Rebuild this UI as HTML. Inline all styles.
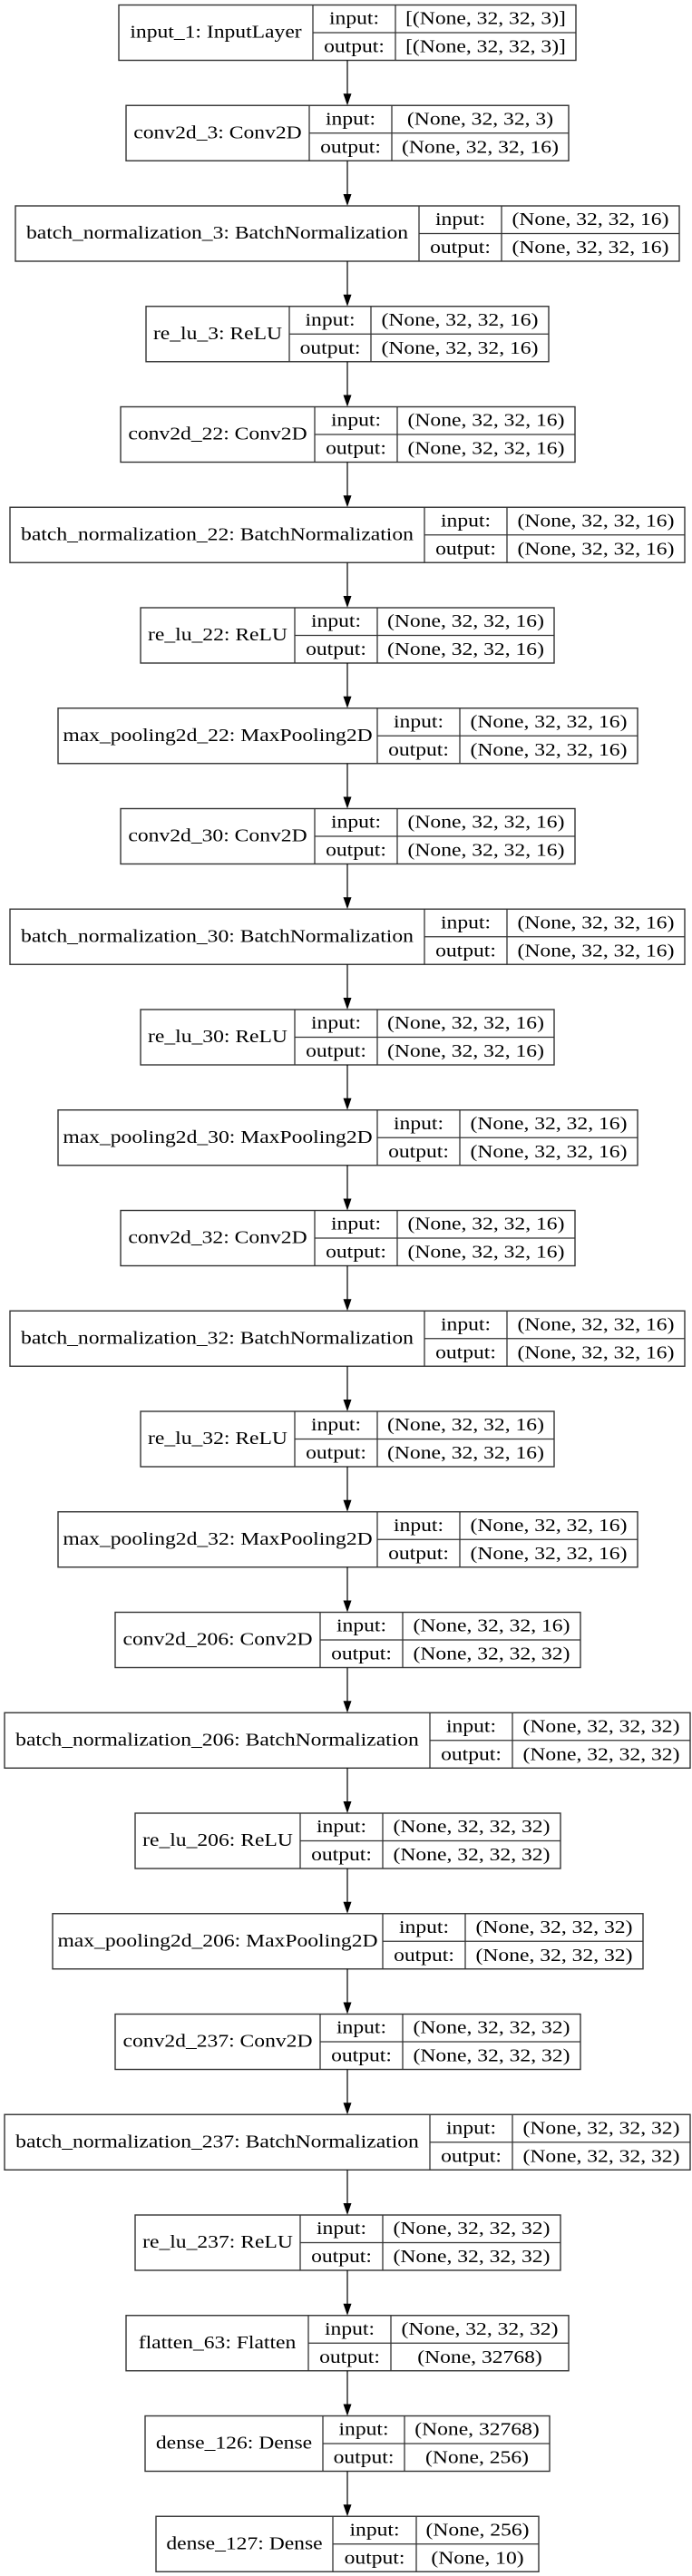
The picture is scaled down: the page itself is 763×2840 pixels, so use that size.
<!DOCTYPE html>
<html><head><meta charset="utf-8"><style>
html,body{margin:0;padding:0;background:#fff;width:763px;height:2840px;overflow:hidden}
svg text{font-family:"Liberation Serif",serif;font-size:20px;fill:#000}
.b{fill:none;stroke:#333;stroke-width:1.4}
.l{stroke:#333;stroke-width:1.3}
.a{stroke:#000;stroke-width:1.2}
</style></head><body>
<svg width="763" height="2840" viewBox="0 0 763 2840" xmlns="http://www.w3.org/2000/svg">
<defs>
<g id="ar"><line class="a" x1="383" y1="-49.75" x2="383" y2="-12"/><polygon points="378.5,-13 387.5,-13 383,0" fill="#000"/></g>
</defs>

<!-- 0 -->
<g transform="translate(0,5.5)">
<rect class="b" x="131" y="0" width="504" height="61"/><line class="l" x1="345" y1="0" x2="345" y2="61"/><line class="l" x1="436" y1="0" x2="436" y2="61"/><line class="l" x1="345" y1="30.5" x2="635" y2="30.5"/>
<g transform="translate(238,36) scale(1.18,1)"><text text-anchor="middle">input_1: InputLayer</text></g>
<g transform="translate(390.5,21) scale(1.18,1)"><text text-anchor="middle">input:</text></g>
<g transform="translate(390.5,52) scale(1.18,1)"><text text-anchor="middle">output:</text></g>
<g transform="translate(535.5,21) scale(1.18,1)"><text text-anchor="middle">[(None, 32, 32, 3)]</text></g>
<g transform="translate(535.5,52) scale(1.18,1)"><text text-anchor="middle">[(None, 32, 32, 3)]</text></g>
</g>

<!-- 1 -->
<g transform="translate(0,116.25)"><use href="#ar"/>
<rect class="b" x="139" y="0" width="488" height="61"/><line class="l" x1="341" y1="0" x2="341" y2="61"/><line class="l" x1="432" y1="0" x2="432" y2="61"/><line class="l" x1="341" y1="30.5" x2="627" y2="30.5"/>
<g transform="translate(240,36) scale(1.18,1)"><text text-anchor="middle">conv2d_3: Conv2D</text></g>
<g transform="translate(386.5,21) scale(1.18,1)"><text text-anchor="middle">input:</text></g>
<g transform="translate(386.5,52) scale(1.18,1)"><text text-anchor="middle">output:</text></g>
<g transform="translate(529.5,21) scale(1.18,1)"><text text-anchor="middle">(None, 32, 32, 3)</text></g>
<g transform="translate(529.5,52) scale(1.18,1)"><text text-anchor="middle">(None, 32, 32, 16)</text></g>
</g>

<!-- 2 -->
<g transform="translate(0,227)"><use href="#ar"/>
<rect class="b" x="17" y="0" width="732" height="61"/><line class="l" x1="462" y1="0" x2="462" y2="61"/><line class="l" x1="553" y1="0" x2="553" y2="61"/><line class="l" x1="462" y1="30.5" x2="749" y2="30.5"/>
<g transform="translate(239.5,36) scale(1.18,1)"><text text-anchor="middle">batch_normalization_3: BatchNormalization</text></g>
<g transform="translate(507.5,21) scale(1.18,1)"><text text-anchor="middle">input:</text></g>
<g transform="translate(507.5,52) scale(1.18,1)"><text text-anchor="middle">output:</text></g>
<g transform="translate(651,21) scale(1.18,1)"><text text-anchor="middle">(None, 32, 32, 16)</text></g>
<g transform="translate(651,52) scale(1.18,1)"><text text-anchor="middle">(None, 32, 32, 16)</text></g>
</g>

<!-- 3 -->
<g transform="translate(0,337.75)"><use href="#ar"/>
<rect class="b" x="161" y="0" width="444" height="61"/><line class="l" x1="319" y1="0" x2="319" y2="61"/><line class="l" x1="409" y1="0" x2="409" y2="61"/><line class="l" x1="319" y1="30.5" x2="605" y2="30.5"/>
<g transform="translate(240,36) scale(1.18,1)"><text text-anchor="middle">re_lu_3: ReLU</text></g>
<g transform="translate(364,21) scale(1.18,1)"><text text-anchor="middle">input:</text></g>
<g transform="translate(364,52) scale(1.18,1)"><text text-anchor="middle">output:</text></g>
<g transform="translate(507,21) scale(1.18,1)"><text text-anchor="middle">(None, 32, 32, 16)</text></g>
<g transform="translate(507,52) scale(1.18,1)"><text text-anchor="middle">(None, 32, 32, 16)</text></g>
</g>

<!-- 4 -->
<g transform="translate(0,448.5)"><use href="#ar"/>
<rect class="b" x="133" y="0" width="501" height="61"/><line class="l" x1="347" y1="0" x2="347" y2="61"/><line class="l" x1="438" y1="0" x2="438" y2="61"/><line class="l" x1="347" y1="30.5" x2="634" y2="30.5"/>
<g transform="translate(240,36) scale(1.18,1)"><text text-anchor="middle">conv2d_22: Conv2D</text></g>
<g transform="translate(392.5,21) scale(1.18,1)"><text text-anchor="middle">input:</text></g>
<g transform="translate(392.5,52) scale(1.18,1)"><text text-anchor="middle">output:</text></g>
<g transform="translate(536,21) scale(1.18,1)"><text text-anchor="middle">(None, 32, 32, 16)</text></g>
<g transform="translate(536,52) scale(1.18,1)"><text text-anchor="middle">(None, 32, 32, 16)</text></g>
</g>

<!-- 5 -->
<g transform="translate(0,559.25)"><use href="#ar"/>
<rect class="b" x="11" y="0" width="744" height="61"/><line class="l" x1="468" y1="0" x2="468" y2="61"/><line class="l" x1="559" y1="0" x2="559" y2="61"/><line class="l" x1="468" y1="30.5" x2="755" y2="30.5"/>
<g transform="translate(239.5,36) scale(1.18,1)"><text text-anchor="middle">batch_normalization_22: BatchNormalization</text></g>
<g transform="translate(513.5,21) scale(1.18,1)"><text text-anchor="middle">input:</text></g>
<g transform="translate(513.5,52) scale(1.18,1)"><text text-anchor="middle">output:</text></g>
<g transform="translate(657,21) scale(1.18,1)"><text text-anchor="middle">(None, 32, 32, 16)</text></g>
<g transform="translate(657,52) scale(1.18,1)"><text text-anchor="middle">(None, 32, 32, 16)</text></g>
</g>

<!-- 6 -->
<g transform="translate(0,670)"><use href="#ar"/>
<rect class="b" x="155" y="0" width="456" height="61"/><line class="l" x1="325" y1="0" x2="325" y2="61"/><line class="l" x1="416" y1="0" x2="416" y2="61"/><line class="l" x1="325" y1="30.5" x2="611" y2="30.5"/>
<g transform="translate(240,36) scale(1.18,1)"><text text-anchor="middle">re_lu_22: ReLU</text></g>
<g transform="translate(370.5,21) scale(1.18,1)"><text text-anchor="middle">input:</text></g>
<g transform="translate(370.5,52) scale(1.18,1)"><text text-anchor="middle">output:</text></g>
<g transform="translate(513.5,21) scale(1.18,1)"><text text-anchor="middle">(None, 32, 32, 16)</text></g>
<g transform="translate(513.5,52) scale(1.18,1)"><text text-anchor="middle">(None, 32, 32, 16)</text></g>
</g>

<!-- 7 -->
<g transform="translate(0,780.75)"><use href="#ar"/>
<rect class="b" x="64" y="0" width="639" height="61"/><line class="l" x1="416" y1="0" x2="416" y2="61"/><line class="l" x1="507" y1="0" x2="507" y2="61"/><line class="l" x1="416" y1="30.5" x2="703" y2="30.5"/>
<g transform="translate(240,36) scale(1.18,1)"><text text-anchor="middle">max_pooling2d_22: MaxPooling2D</text></g>
<g transform="translate(461.5,21) scale(1.18,1)"><text text-anchor="middle">input:</text></g>
<g transform="translate(461.5,52) scale(1.18,1)"><text text-anchor="middle">output:</text></g>
<g transform="translate(605,21) scale(1.18,1)"><text text-anchor="middle">(None, 32, 32, 16)</text></g>
<g transform="translate(605,52) scale(1.18,1)"><text text-anchor="middle">(None, 32, 32, 16)</text></g>
</g>

<!-- 8 -->
<g transform="translate(0,891.5)"><use href="#ar"/>
<rect class="b" x="133" y="0" width="501" height="61"/><line class="l" x1="347" y1="0" x2="347" y2="61"/><line class="l" x1="438" y1="0" x2="438" y2="61"/><line class="l" x1="347" y1="30.5" x2="634" y2="30.5"/>
<g transform="translate(240,36) scale(1.18,1)"><text text-anchor="middle">conv2d_30: Conv2D</text></g>
<g transform="translate(392.5,21) scale(1.18,1)"><text text-anchor="middle">input:</text></g>
<g transform="translate(392.5,52) scale(1.18,1)"><text text-anchor="middle">output:</text></g>
<g transform="translate(536,21) scale(1.18,1)"><text text-anchor="middle">(None, 32, 32, 16)</text></g>
<g transform="translate(536,52) scale(1.18,1)"><text text-anchor="middle">(None, 32, 32, 16)</text></g>
</g>

<!-- 9 -->
<g transform="translate(0,1002.25)"><use href="#ar"/>
<rect class="b" x="11" y="0" width="744" height="61"/><line class="l" x1="468" y1="0" x2="468" y2="61"/><line class="l" x1="559" y1="0" x2="559" y2="61"/><line class="l" x1="468" y1="30.5" x2="755" y2="30.5"/>
<g transform="translate(239.5,36) scale(1.18,1)"><text text-anchor="middle">batch_normalization_30: BatchNormalization</text></g>
<g transform="translate(513.5,21) scale(1.18,1)"><text text-anchor="middle">input:</text></g>
<g transform="translate(513.5,52) scale(1.18,1)"><text text-anchor="middle">output:</text></g>
<g transform="translate(657,21) scale(1.18,1)"><text text-anchor="middle">(None, 32, 32, 16)</text></g>
<g transform="translate(657,52) scale(1.18,1)"><text text-anchor="middle">(None, 32, 32, 16)</text></g>
</g>

<!-- 10 -->
<g transform="translate(0,1113)"><use href="#ar"/>
<rect class="b" x="155" y="0" width="456" height="61"/><line class="l" x1="325" y1="0" x2="325" y2="61"/><line class="l" x1="416" y1="0" x2="416" y2="61"/><line class="l" x1="325" y1="30.5" x2="611" y2="30.5"/>
<g transform="translate(240,36) scale(1.18,1)"><text text-anchor="middle">re_lu_30: ReLU</text></g>
<g transform="translate(370.5,21) scale(1.18,1)"><text text-anchor="middle">input:</text></g>
<g transform="translate(370.5,52) scale(1.18,1)"><text text-anchor="middle">output:</text></g>
<g transform="translate(513.5,21) scale(1.18,1)"><text text-anchor="middle">(None, 32, 32, 16)</text></g>
<g transform="translate(513.5,52) scale(1.18,1)"><text text-anchor="middle">(None, 32, 32, 16)</text></g>
</g>

<!-- 11 -->
<g transform="translate(0,1223.75)"><use href="#ar"/>
<rect class="b" x="64" y="0" width="639" height="61"/><line class="l" x1="416" y1="0" x2="416" y2="61"/><line class="l" x1="507" y1="0" x2="507" y2="61"/><line class="l" x1="416" y1="30.5" x2="703" y2="30.5"/>
<g transform="translate(240,36) scale(1.18,1)"><text text-anchor="middle">max_pooling2d_30: MaxPooling2D</text></g>
<g transform="translate(461.5,21) scale(1.18,1)"><text text-anchor="middle">input:</text></g>
<g transform="translate(461.5,52) scale(1.18,1)"><text text-anchor="middle">output:</text></g>
<g transform="translate(605,21) scale(1.18,1)"><text text-anchor="middle">(None, 32, 32, 16)</text></g>
<g transform="translate(605,52) scale(1.18,1)"><text text-anchor="middle">(None, 32, 32, 16)</text></g>
</g>

<!-- 12 -->
<g transform="translate(0,1334.5)"><use href="#ar"/>
<rect class="b" x="133" y="0" width="501" height="61"/><line class="l" x1="347" y1="0" x2="347" y2="61"/><line class="l" x1="438" y1="0" x2="438" y2="61"/><line class="l" x1="347" y1="30.5" x2="634" y2="30.5"/>
<g transform="translate(240,36) scale(1.18,1)"><text text-anchor="middle">conv2d_32: Conv2D</text></g>
<g transform="translate(392.5,21) scale(1.18,1)"><text text-anchor="middle">input:</text></g>
<g transform="translate(392.5,52) scale(1.18,1)"><text text-anchor="middle">output:</text></g>
<g transform="translate(536,21) scale(1.18,1)"><text text-anchor="middle">(None, 32, 32, 16)</text></g>
<g transform="translate(536,52) scale(1.18,1)"><text text-anchor="middle">(None, 32, 32, 16)</text></g>
</g>

<!-- 13 -->
<g transform="translate(0,1445.25)"><use href="#ar"/>
<rect class="b" x="11" y="0" width="744" height="61"/><line class="l" x1="468" y1="0" x2="468" y2="61"/><line class="l" x1="559" y1="0" x2="559" y2="61"/><line class="l" x1="468" y1="30.5" x2="755" y2="30.5"/>
<g transform="translate(239.5,36) scale(1.18,1)"><text text-anchor="middle">batch_normalization_32: BatchNormalization</text></g>
<g transform="translate(513.5,21) scale(1.18,1)"><text text-anchor="middle">input:</text></g>
<g transform="translate(513.5,52) scale(1.18,1)"><text text-anchor="middle">output:</text></g>
<g transform="translate(657,21) scale(1.18,1)"><text text-anchor="middle">(None, 32, 32, 16)</text></g>
<g transform="translate(657,52) scale(1.18,1)"><text text-anchor="middle">(None, 32, 32, 16)</text></g>
</g>

<!-- 14 -->
<g transform="translate(0,1556)"><use href="#ar"/>
<rect class="b" x="155" y="0" width="456" height="61"/><line class="l" x1="325" y1="0" x2="325" y2="61"/><line class="l" x1="416" y1="0" x2="416" y2="61"/><line class="l" x1="325" y1="30.5" x2="611" y2="30.5"/>
<g transform="translate(240,36) scale(1.18,1)"><text text-anchor="middle">re_lu_32: ReLU</text></g>
<g transform="translate(370.5,21) scale(1.18,1)"><text text-anchor="middle">input:</text></g>
<g transform="translate(370.5,52) scale(1.18,1)"><text text-anchor="middle">output:</text></g>
<g transform="translate(513.5,21) scale(1.18,1)"><text text-anchor="middle">(None, 32, 32, 16)</text></g>
<g transform="translate(513.5,52) scale(1.18,1)"><text text-anchor="middle">(None, 32, 32, 16)</text></g>
</g>

<!-- 15 -->
<g transform="translate(0,1666.75)"><use href="#ar"/>
<rect class="b" x="64" y="0" width="639" height="61"/><line class="l" x1="416" y1="0" x2="416" y2="61"/><line class="l" x1="507" y1="0" x2="507" y2="61"/><line class="l" x1="416" y1="30.5" x2="703" y2="30.5"/>
<g transform="translate(240,36) scale(1.18,1)"><text text-anchor="middle">max_pooling2d_32: MaxPooling2D</text></g>
<g transform="translate(461.5,21) scale(1.18,1)"><text text-anchor="middle">input:</text></g>
<g transform="translate(461.5,52) scale(1.18,1)"><text text-anchor="middle">output:</text></g>
<g transform="translate(605,21) scale(1.18,1)"><text text-anchor="middle">(None, 32, 32, 16)</text></g>
<g transform="translate(605,52) scale(1.18,1)"><text text-anchor="middle">(None, 32, 32, 16)</text></g>
</g>

<!-- 16 -->
<g transform="translate(0,1777.5)"><use href="#ar"/>
<rect class="b" x="127" y="0" width="513" height="61"/><line class="l" x1="353" y1="0" x2="353" y2="61"/><line class="l" x1="444" y1="0" x2="444" y2="61"/><line class="l" x1="353" y1="30.5" x2="640" y2="30.5"/>
<g transform="translate(240,36) scale(1.18,1)"><text text-anchor="middle">conv2d_206: Conv2D</text></g>
<g transform="translate(398.5,21) scale(1.18,1)"><text text-anchor="middle">input:</text></g>
<g transform="translate(398.5,52) scale(1.18,1)"><text text-anchor="middle">output:</text></g>
<g transform="translate(542,21) scale(1.18,1)"><text text-anchor="middle">(None, 32, 32, 16)</text></g>
<g transform="translate(542,52) scale(1.18,1)"><text text-anchor="middle">(None, 32, 32, 32)</text></g>
</g>

<!-- 17 -->
<g transform="translate(0,1888.25)"><use href="#ar"/>
<rect class="b" x="5" y="0" width="756" height="61"/><line class="l" x1="474" y1="0" x2="474" y2="61"/><line class="l" x1="565" y1="0" x2="565" y2="61"/><line class="l" x1="474" y1="30.5" x2="761" y2="30.5"/>
<g transform="translate(239.5,36) scale(1.18,1)"><text text-anchor="middle">batch_normalization_206: BatchNormalization</text></g>
<g transform="translate(519.5,21) scale(1.18,1)"><text text-anchor="middle">input:</text></g>
<g transform="translate(519.5,52) scale(1.18,1)"><text text-anchor="middle">output:</text></g>
<g transform="translate(663,21) scale(1.18,1)"><text text-anchor="middle">(None, 32, 32, 32)</text></g>
<g transform="translate(663,52) scale(1.18,1)"><text text-anchor="middle">(None, 32, 32, 32)</text></g>
</g>

<!-- 18 -->
<g transform="translate(0,1999)"><use href="#ar"/>
<rect class="b" x="149" y="0" width="469" height="61"/><line class="l" x1="331" y1="0" x2="331" y2="61"/><line class="l" x1="422" y1="0" x2="422" y2="61"/><line class="l" x1="331" y1="30.5" x2="618" y2="30.5"/>
<g transform="translate(240,36) scale(1.18,1)"><text text-anchor="middle">re_lu_206: ReLU</text></g>
<g transform="translate(376.5,21) scale(1.18,1)"><text text-anchor="middle">input:</text></g>
<g transform="translate(376.5,52) scale(1.18,1)"><text text-anchor="middle">output:</text></g>
<g transform="translate(520,21) scale(1.18,1)"><text text-anchor="middle">(None, 32, 32, 32)</text></g>
<g transform="translate(520,52) scale(1.18,1)"><text text-anchor="middle">(None, 32, 32, 32)</text></g>
</g>

<!-- 19 -->
<g transform="translate(0,2109.75)"><use href="#ar"/>
<rect class="b" x="58" y="0" width="651" height="61"/><line class="l" x1="422" y1="0" x2="422" y2="61"/><line class="l" x1="513" y1="0" x2="513" y2="61"/><line class="l" x1="422" y1="30.5" x2="709" y2="30.5"/>
<g transform="translate(240,36) scale(1.18,1)"><text text-anchor="middle">max_pooling2d_206: MaxPooling2D</text></g>
<g transform="translate(467.5,21) scale(1.18,1)"><text text-anchor="middle">input:</text></g>
<g transform="translate(467.5,52) scale(1.18,1)"><text text-anchor="middle">output:</text></g>
<g transform="translate(611,21) scale(1.18,1)"><text text-anchor="middle">(None, 32, 32, 32)</text></g>
<g transform="translate(611,52) scale(1.18,1)"><text text-anchor="middle">(None, 32, 32, 32)</text></g>
</g>

<!-- 20 -->
<g transform="translate(0,2220.5)"><use href="#ar"/>
<rect class="b" x="127" y="0" width="513" height="61"/><line class="l" x1="353" y1="0" x2="353" y2="61"/><line class="l" x1="444" y1="0" x2="444" y2="61"/><line class="l" x1="353" y1="30.5" x2="640" y2="30.5"/>
<g transform="translate(240,36) scale(1.18,1)"><text text-anchor="middle">conv2d_237: Conv2D</text></g>
<g transform="translate(398.5,21) scale(1.18,1)"><text text-anchor="middle">input:</text></g>
<g transform="translate(398.5,52) scale(1.18,1)"><text text-anchor="middle">output:</text></g>
<g transform="translate(542,21) scale(1.18,1)"><text text-anchor="middle">(None, 32, 32, 32)</text></g>
<g transform="translate(542,52) scale(1.18,1)"><text text-anchor="middle">(None, 32, 32, 32)</text></g>
</g>

<!-- 21 -->
<g transform="translate(0,2331.25)"><use href="#ar"/>
<rect class="b" x="5" y="0" width="756" height="61"/><line class="l" x1="474" y1="0" x2="474" y2="61"/><line class="l" x1="565" y1="0" x2="565" y2="61"/><line class="l" x1="474" y1="30.5" x2="761" y2="30.5"/>
<g transform="translate(239.5,36) scale(1.18,1)"><text text-anchor="middle">batch_normalization_237: BatchNormalization</text></g>
<g transform="translate(519.5,21) scale(1.18,1)"><text text-anchor="middle">input:</text></g>
<g transform="translate(519.5,52) scale(1.18,1)"><text text-anchor="middle">output:</text></g>
<g transform="translate(663,21) scale(1.18,1)"><text text-anchor="middle">(None, 32, 32, 32)</text></g>
<g transform="translate(663,52) scale(1.18,1)"><text text-anchor="middle">(None, 32, 32, 32)</text></g>
</g>

<!-- 22 -->
<g transform="translate(0,2442)"><use href="#ar"/>
<rect class="b" x="149" y="0" width="469" height="61"/><line class="l" x1="331" y1="0" x2="331" y2="61"/><line class="l" x1="422" y1="0" x2="422" y2="61"/><line class="l" x1="331" y1="30.5" x2="618" y2="30.5"/>
<g transform="translate(240,36) scale(1.18,1)"><text text-anchor="middle">re_lu_237: ReLU</text></g>
<g transform="translate(376.5,21) scale(1.18,1)"><text text-anchor="middle">input:</text></g>
<g transform="translate(376.5,52) scale(1.18,1)"><text text-anchor="middle">output:</text></g>
<g transform="translate(520,21) scale(1.18,1)"><text text-anchor="middle">(None, 32, 32, 32)</text></g>
<g transform="translate(520,52) scale(1.18,1)"><text text-anchor="middle">(None, 32, 32, 32)</text></g>
</g>

<!-- 23 -->
<g transform="translate(0,2552.75)"><use href="#ar"/>
<rect class="b" x="139" y="0" width="488" height="61"/><line class="l" x1="340" y1="0" x2="340" y2="61"/><line class="l" x1="431" y1="0" x2="431" y2="61"/><line class="l" x1="340" y1="30.5" x2="627" y2="30.5"/>
<g transform="translate(239.5,36) scale(1.18,1)"><text text-anchor="middle">flatten_63: Flatten</text></g>
<g transform="translate(385.5,21) scale(1.18,1)"><text text-anchor="middle">input:</text></g>
<g transform="translate(385.5,52) scale(1.18,1)"><text text-anchor="middle">output:</text></g>
<g transform="translate(529,21) scale(1.18,1)"><text text-anchor="middle">(None, 32, 32, 32)</text></g>
<g transform="translate(529,52) scale(1.18,1)"><text text-anchor="middle">(None, 32768)</text></g>
</g>

<!-- 24 -->
<g transform="translate(0,2663.5)"><use href="#ar"/>
<rect class="b" x="160" y="0" width="446" height="61"/><line class="l" x1="356" y1="0" x2="356" y2="61"/><line class="l" x1="446" y1="0" x2="446" y2="61"/><line class="l" x1="356" y1="30.5" x2="606" y2="30.5"/>
<g transform="translate(258,36) scale(1.18,1)"><text text-anchor="middle">dense_126: Dense</text></g>
<g transform="translate(401,21) scale(1.18,1)"><text text-anchor="middle">input:</text></g>
<g transform="translate(401,52) scale(1.18,1)"><text text-anchor="middle">output:</text></g>
<g transform="translate(526,21) scale(1.18,1)"><text text-anchor="middle">(None, 32768)</text></g>
<g transform="translate(526,52) scale(1.18,1)"><text text-anchor="middle">(None, 256)</text></g>
</g>

<!-- 25 -->
<g transform="translate(0,2774.25)"><use href="#ar"/>
<rect class="b" x="172" y="0" width="422" height="61"/><line class="l" x1="367" y1="0" x2="367" y2="61"/><line class="l" x1="459" y1="0" x2="459" y2="61"/><line class="l" x1="367" y1="30.5" x2="594" y2="30.5"/>
<g transform="translate(269.5,36) scale(1.18,1)"><text text-anchor="middle">dense_127: Dense</text></g>
<g transform="translate(413,21) scale(1.18,1)"><text text-anchor="middle">input:</text></g>
<g transform="translate(413,52) scale(1.18,1)"><text text-anchor="middle">output:</text></g>
<g transform="translate(526.5,21) scale(1.18,1)"><text text-anchor="middle">(None, 256)</text></g>
<g transform="translate(526.5,52) scale(1.18,1)"><text text-anchor="middle">(None, 10)</text></g>
</g>
</svg>
</body></html>
